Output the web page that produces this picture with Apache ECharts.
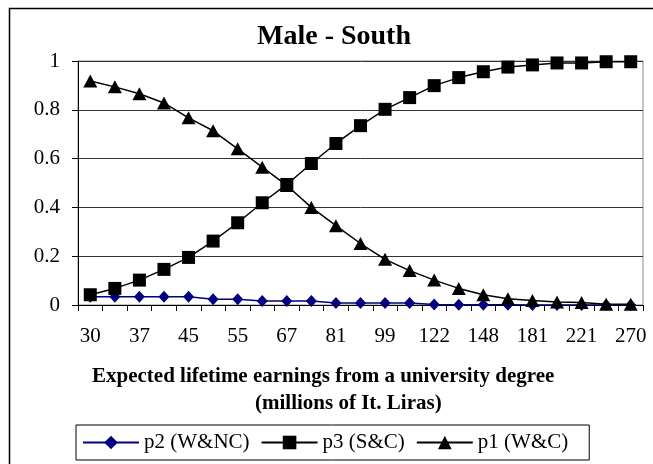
<!DOCTYPE html>
<html>
<head>
<meta charset="utf-8">
<script src="https://cdn.jsdelivr.net/npm/echarts@6/dist/echarts.min.js"></script>
<style>
html,body{margin:0;padding:0;background:#fff;}
#chart{width:653px;height:464px;}
</style>
</head>
<body>
<div id="chart"></div>
<script>
// Categories: expected lifetime earnings (millions of It. Liras); unlabeled ones estimated
var categories = ['30','33','37','41','45','50','55','61','67','74','81','90','99','110','122','134','148','164','181','200','221','244','270'];
var p2 = [0.034,0.034,0.034,0.034,0.034,0.024,0.024,0.016,0.016,0.016,0.008,0.008,0.008,0.008,0.002,0.001,0.001,0.001,0,0,0,0,0];
var p3 = [0.042,0.068,0.102,0.146,0.195,0.262,0.337,0.419,0.494,0.580,0.662,0.735,0.802,0.850,0.899,0.932,0.956,0.975,0.984,0.992,0.992,0.997,0.997];
var p1 = [0.918,0.894,0.866,0.828,0.767,0.714,0.640,0.565,0.490,0.400,0.325,0.252,0.187,0.141,0.102,0.068,0.042,0.026,0.018,0.012,0.010,0.003,0.003];
var yTicks = [0, 0.2, 0.4, 0.6, 0.8, 1];

var FONT = 'Liberation Serif';
var chart = echarts.init(document.getElementById('chart'), null, {renderer: 'canvas'});
chart.setOption({
  animation: false,
  backgroundColor: '#fff',
  grid: {left: 78, top: 61, right: 10, bottom: 159, show: true, borderColor: '#888', borderWidth: 1},
  legend: {
    left: 76, top: 425,
    padding: [7, 21, 7, 6],
    borderColor: '#000', borderWidth: 1,
    itemWidth: 56, itemHeight: 17, itemGap: 11,
    textStyle: {fontFamily: FONT, fontSize: 21, color: '#000'},
    data: ['p2 (W&NC)', 'p3 (S&C)', 'p1 (W&C)']
  },
  xAxis: {
    type: 'category',
    data: categories,
    boundaryGap: true,
    axisLine: {lineStyle: {color: '#000', width: 1}},
    axisTick: {show: true, interval: 0, length: 6, lineStyle: {color: '#000'}},
    axisLabel: {interval: 1, margin: 21, fontFamily: FONT, fontSize: 21, color: '#000'},
    splitLine: {show: false}
  },
  yAxis: {
    type: 'value',
    min: 0, max: 1, interval: 0.2,
    axisLine: {show: true, lineStyle: {color: '#000', width: 1}},
    axisTick: {show: true, length: 6, lineStyle: {color: '#000'}},
    axisLabel: {margin: 18, fontFamily: FONT, fontSize: 21, color: '#000',
      formatter: function (v) { return yTicks.indexOf(Math.round(v*10)/10) >= 0 ? String(Math.round(v*10)/10) : ''; }},
    splitLine: {show: true, lineStyle: {color: '#333', width: 1}}
  },
  series: [
    {name: 'p2 (W&NC)', type: 'line', data: p2, symbol: 'diamond', symbolSize: [11, 12],
      lineStyle: {color: '#000080', width: 1.5}, itemStyle: {color: '#000080'}, z: 2},
    {name: 'p3 (S&C)', type: 'line', data: p3, symbol: 'rect', symbolSize: 13,
      lineStyle: {color: '#000', width: 1.5}, itemStyle: {color: '#000'}, z: 3},
    {name: 'p1 (W&C)', type: 'line', data: p1, symbol: 'triangle', symbolSize: [14, 13],
      lineStyle: {color: '#000', width: 1.5}, itemStyle: {color: '#000'}, z: 4}
  ],
  graphic: [
    {type: 'rect', shape: {x: 9.5, y: 8.5, width: 700, height: 500}, style: {fill: null, stroke: '#000', lineWidth: 1.5}, silent: true, z: -10},
    {type: 'text', x: 334, y: 37, style: {text: 'Male - South', font: 'bold 28px "Liberation Serif"', fill: '#000', textAlign: 'center', textVerticalAlign: 'middle'}},
    {type: 'text', x: 92, y: 377, style: {text: 'Expected lifetime earnings from a university degree', font: 'bold 21px "Liberation Serif"', fill: '#000', textAlign: 'left', textVerticalAlign: 'middle'}},
    {type: 'text', x: 255, y: 404, style: {text: '(millions of It. Liras)', font: 'bold 21px "Liberation Serif"', fill: '#000', textAlign: 'left', textVerticalAlign: 'middle'}}
  ]
});
</script>
</body>
</html>
